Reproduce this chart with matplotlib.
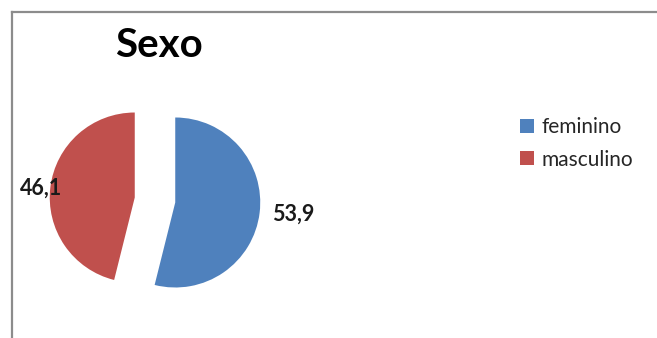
import numpy as np
import matplotlib
matplotlib.use("Agg")
import matplotlib.pyplot as plt
from matplotlib.patches import Patch
from matplotlib.lines import Line2D

# data
categories = ["feminino", "masculino"]
values = [53.9, 46.1]
colors = ["#4F81BD", "#C0504D"]
title = "Sexo"

plt.rcParams['font.family'] = ['Lato', 'DejaVu Sans']

W, H = 657, 338
fig = plt.figure(figsize=(W / 100, H / 100), dpi=100)

# chart frame (only left and top edges visible)
fig.add_artist(Line2D([12 / W, 12 / W], [0, 1 - 12 / H], transform=fig.transFigure,
                      color="#8c8c8c", lw=1.6))
fig.add_artist(Line2D([12 / W, 1], [1 - 12 / H, 1 - 12 / H], transform=fig.transFigure,
                      color="#8c8c8c", lw=1.6))

# pie axes: radius 1 -> ~85 px, centred at (155, 200) px
cx, cy, r = 155, 338 - 200, 85
half = 1.5 * r
ax = fig.add_axes([(cx - half) / W, (cy - half) / H, 2 * half / W, 2 * half / H])
wedges, _ = ax.pie(values, colors=colors, startangle=90, counterclock=False,
                   explode=[0.24, 0.24], radius=1,
                   wedgeprops=dict(linewidth=0))
ax.set_xlim(-1.5, 1.5)
ax.set_ylim(-1.5, 1.5)
ax.set_aspect("equal")
ax.axis("off")

# data labels
label_dist = [1.15, 0.86]
for w, v, d in zip(wedges, values, label_dist):
    th = np.deg2rad((w.theta1 + w.theta2) / 2)
    x0, y0 = w.center
    xt = x0 + d * np.cos(th)
    yt = y0 + d * np.sin(th)
    ax.text(xt, yt, f"{v:.1f}".replace(".", ","), ha="left" if xt > 0 else "right",
            va="center", fontsize=15.5, fontweight="bold", color="#1a1a1a", clip_on=False)

fig.text(159 / W, 1 - 57 / H, title, ha="center", va="baseline",
         fontsize=29, fontweight="bold", color="black")

handles = [Patch(facecolor=c, edgecolor="none") for c in colors]
fig.legend(handles, categories, loc="upper left", bbox_to_anchor=(520 / W, 1 - 117 / H),
           frameon=False, fontsize=15, handlelength=0.65, handleheight=0.65,
           handletextpad=0.4, labelspacing=0.6, borderaxespad=0, borderpad=0,
           labelcolor="#262626")

fig.savefig("out.png", dpi=100)
